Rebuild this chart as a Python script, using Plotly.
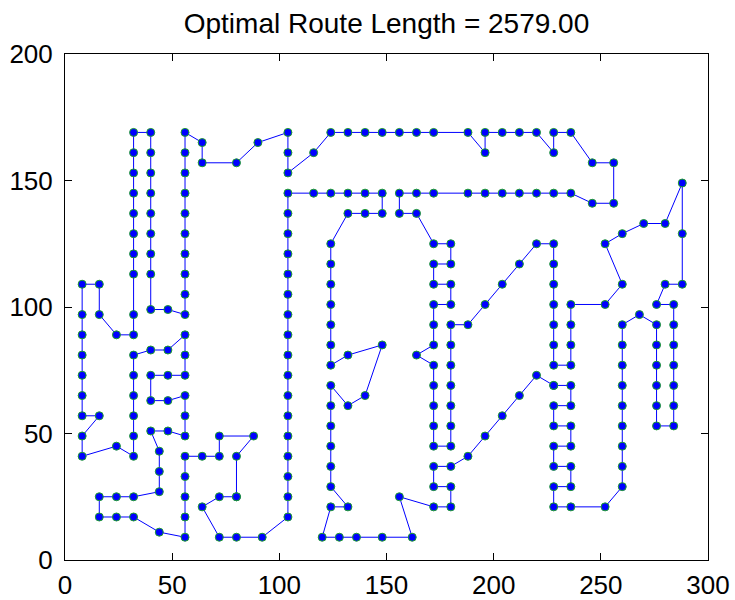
import plotly.graph_objects as go

# Tour order (closed route)
route_x = [228, 236, 236, 228, 228, 236, 236, 228, 228, 236, 236, 228, 228, 236, 252,
           260, 260, 260, 260, 260, 260, 260, 260, 260, 268, 276, 276, 276, 276, 276, 276,
           284, 284, 284, 284, 284, 284, 284, 276, 280, 288, 288, 288, 280, 270, 260, 252,
           260, 252, 236, 236, 236, 236, 228, 228, 228, 228, 228, 228, 228, 220, 212, 204,
           196, 188, 180, 180, 180, 180, 180, 180, 180, 172, 172, 172, 172, 172, 164, 172,
           172, 172, 180, 180, 172, 172, 180, 180, 172, 164, 156, 156, 164, 172, 188, 196,
           204, 212, 220, 228, 236, 246, 256, 256, 246, 236, 228, 228, 220, 212, 204, 196,
           196, 188, 172, 164, 156, 148, 140, 132, 124, 116, 104, 104, 104, 90, 80, 64, 64,
           56, 56, 56, 56, 56, 56, 56, 56, 56, 56, 48, 40, 40, 40, 40, 40, 40, 40, 40, 40,
           32, 32, 32, 32, 32, 32, 32, 32, 32, 32, 24, 16, 16, 8, 8, 8, 8, 8, 8, 8, 16, 8, 8,
           24, 32, 32, 32, 32, 32, 32, 40, 48, 56, 56, 56, 48, 40, 40, 48, 56, 56, 56, 48, 40,
           44, 44, 44, 32, 24, 16, 16, 24, 32, 44, 56, 56, 56, 56, 56, 64, 72, 72, 88, 80, 80,
           80, 72, 64, 72, 80, 92,
           104, 104, 104, 104, 104, 104, 104, 104, 104, 104, 104, 104, 104, 104, 104, 104, 104,
           116, 124, 132, 140, 148, 148, 140, 132, 124, 124, 124, 124, 124, 124, 124, 132, 148,
           140, 132, 124, 124, 124, 124, 124, 124, 132, 124, 120, 128, 136, 148, 162, 156, 172,
           180, 180, 172, 172, 180, 188, 196, 204, 212, 220, 228]
route_y = [69, 69, 61, 61, 53, 53, 45, 45, 37, 37, 29, 29, 21, 21, 21,
           29, 37, 45, 53, 61, 69, 77, 85, 93, 97, 93, 85, 77, 69, 61, 53,
           53, 61, 69, 77, 85, 93, 101, 101, 109, 109, 129, 149, 133, 133, 129, 125,
           109, 101, 101, 93, 85, 77, 77, 85, 93, 101, 109, 117, 125, 125, 117, 109,
           101, 93, 93, 85, 77, 69, 61, 53, 45, 45, 53, 61, 69, 77, 81, 85,
           93, 101, 101, 109, 109, 117, 117, 125, 125, 137, 137, 145, 145, 145, 145, 145,
           145, 145, 145, 145, 145, 141, 141, 157, 157, 169, 169, 161, 169, 169, 169, 169,
           161, 169, 169, 169, 169, 169, 169, 169, 169, 161, 153, 161, 169, 165, 157, 157, 165,
           169, 161, 153, 145, 137, 129, 121, 113, 105, 97, 99, 99, 113, 121, 129, 137, 145, 153, 161, 169,
           169, 161, 153, 145, 137, 129, 121, 113, 97, 89, 89, 97, 109, 109, 97, 89, 81, 73, 65, 57, 57, 49, 41,
           45, 41, 49, 57, 65, 73, 81, 83, 83, 89, 81, 73, 73, 73, 63, 63, 65, 57, 49, 51, 51,
           43, 35, 27, 25, 25, 25, 17, 17, 17, 11, 9, 17, 25, 33, 41, 41, 41, 49, 49, 41, 25,
           25, 25, 21, 9, 9, 9,
           17, 25, 33, 41, 49, 57, 65, 73, 81, 89, 97, 105, 113, 121, 129, 137, 145,
           145, 145, 145, 145, 145, 137, 137, 137, 125, 117, 109, 101, 93, 85, 77, 81, 85,
           65, 61, 69, 61, 53, 45, 37, 29, 21, 21, 9, 9, 9, 9, 9, 25, 21,
           21, 29, 29, 37, 37, 41, 49, 57, 65, 73, 69]

title_text = "Optimal Route Length = 2579.00"
x_ticks = [0, 50, 100, 150, 200, 250, 300]
y_ticks = [0, 50, 100, 150, 200]

FONT = "Liberation Sans, Arial, Helvetica, sans-serif"

fig = go.Figure()
fig.add_trace(go.Scatter(
    x=route_x, y=route_y, mode="lines+markers",
    line=dict(color="#0000ff", width=1),
    marker=dict(size=8, color="#0000ff", line=dict(color="rgb(30,160,40)", width=1)),
    showlegend=False, hoverinfo="x+y",
))

axis_common = dict(
    showgrid=False, zeroline=False, showline=True, linecolor="black", linewidth=1,
    mirror="ticks", ticks="inside", ticklen=7, tickcolor="black", tickwidth=1,
    tickfont=dict(family=FONT, size=26, color="black"), automargin=False,
)
fig.update_xaxes(range=[0, 300], tickvals=x_ticks, ticktext=[str(v) for v in x_ticks],
                 ticklabelstandoff=2, **axis_common)
fig.update_yaxes(range=[0, 200], tickvals=y_ticks, ticktext=[str(v) for v in y_ticks],
                 ticklabelstandoff=6, **axis_common)

fig.update_layout(
    width=735, height=600,
    margin=dict(l=65, r=27, t=54, b=40),
    paper_bgcolor="white", plot_bgcolor="white",
    title=dict(text=title_text, x=0.5, xref="paper", xanchor="center",
               y=1 - 23 / 600, yref="container", yanchor="middle",
               font=dict(family=FONT, size=28, color="black")),
)

fig.write_html("out.html",
               config={"displayModeBar": False},
               post_script="document.body.style.margin='0';document.body.style.overflow='hidden';")
